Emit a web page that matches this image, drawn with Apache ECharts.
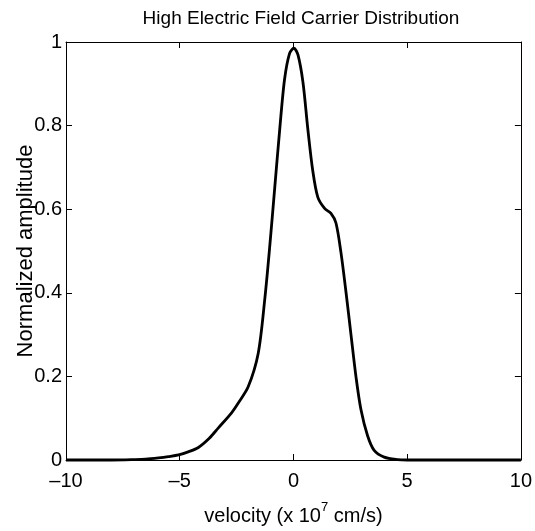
<!DOCTYPE html>
<html><head><meta charset="utf-8">
<script src="https://cdn.jsdelivr.net/npm/echarts@6/dist/echarts.min.js"></script>
<style>html,body{margin:0;padding:0;background:#fff}#c{width:535px;height:531px}</style>
</head><body><div id="c"></div>
<script>
const velocity = [-10, -9, -8, -7, -6.5, -5.93, -5.5, -5.05, -4.6, -4.18, -3.7, -3.3, -2.72, -2.43, -1.99, -1.55, -1.26, -1.04, -0.82, -0.6, -0.39, -0.17, 0.02, 0.2, 0.42, 0.63, 0.85, 1.07, 1.37, 1.65, 1.87, 2.09, 2.31, 2.53, 2.75, 2.97, 3.26, 3.55, 3.99, 4.57, 5, 6, 7, 8, 9, 10];
const amplitude = [0, 0, 0, 0.001, 0.002, 0.005, 0.008, 0.012, 0.02, 0.03, 0.052, 0.077, 0.113, 0.136, 0.175, 0.255, 0.385, 0.512, 0.653, 0.793, 0.911, 0.973, 0.985, 0.969, 0.903, 0.793, 0.692, 0.629, 0.602, 0.590, 0.567, 0.496, 0.402, 0.300, 0.199, 0.120, 0.058, 0.023, 0.007, 0.001, 0, 0, 0, 0, 0, 0];
const xTicks = [-10, -5, 0, 5, 10];
const yTicks = [0, 0.2, 0.4, 0.6, 0.8, 1];
const titleText = 'High Electric Field Carrier Distribution';
const yLabel = 'Normalized amplitude';

const chart = echarts.init(document.getElementById('c'));
const font = 'Liberation Sans, Arial, sans-serif';
const data = velocity.map((v, i) => [v, amplitude[i]]);
const tickCommon = {inside: true, length: 6, lineStyle: {color: '#000', width: 1}};
const lineCommon = {show: true, onZero: false, lineStyle: {color: '#000', width: 1}};
chart.setOption({
  animation: false,
  backgroundColor: '#fff',
  title: {text: titleText, left: 296, top: 4, textAlign: 'center',
    textStyle: {fontFamily: font, fontSize: 19, fontWeight: 'normal', color: '#000'}},
  grid: {left: 66, right: 11, top: 42, bottom: 63, show: false},
  xAxis: [{
    type: 'value', min: -10, max: 10, interval: 5, position: 'bottom',
    axisLine: lineCommon, axisTick: tickCommon, splitLine: {show: false},
    axisLabel: {fontFamily: font, fontSize: 20, color: '#000', margin: 11,
      formatter: v => (v < 0 ? '\u2013' + Math.abs(v) : String(v))},
    name: '{a|velocity (x 10}{s|7}{a| cm/s)}', nameLocation: 'middle', nameGap: 41,
    nameTextStyle: {rich: {a: {fontFamily: font, fontSize: 20, color: '#000', verticalAlign: 'bottom'},
      s: {fontFamily: font, fontSize: 13, color: '#000', verticalAlign: 'top', padding: [0, 0, 12, 0]}}}
  }, {
    type: 'value', min: -10, max: 10, interval: 5, position: 'top',
    axisLine: lineCommon, axisTick: tickCommon, axisLabel: {show: false}, splitLine: {show: false}
  }],
  yAxis: [{
    type: 'value', min: 0, max: 1, interval: 0.2, position: 'left',
    axisLine: lineCommon, axisTick: tickCommon, splitLine: {show: false},
    axisLabel: {fontFamily: font, fontSize: 20, color: '#000', margin: 4,
      formatter: v => String(Math.round(v * 10) / 10)},
    name: yLabel, nameLocation: 'middle', nameGap: 29, nameRotate: 90, nameMoveOverlap: false,
    nameTextStyle: {fontFamily: font, fontSize: 22, color: '#000'}
  }, {
    type: 'value', min: 0, max: 1, interval: 0.2, position: 'right',
    axisLine: lineCommon, axisTick: tickCommon, axisLabel: {show: false}, splitLine: {show: false}
  }],
  series: [{
    type: 'line', data: data, smooth: 0.3, showSymbol: false,
    lineStyle: {color: '#000', width: 2.8}, clip: false
  }]
});
</script></body></html>
